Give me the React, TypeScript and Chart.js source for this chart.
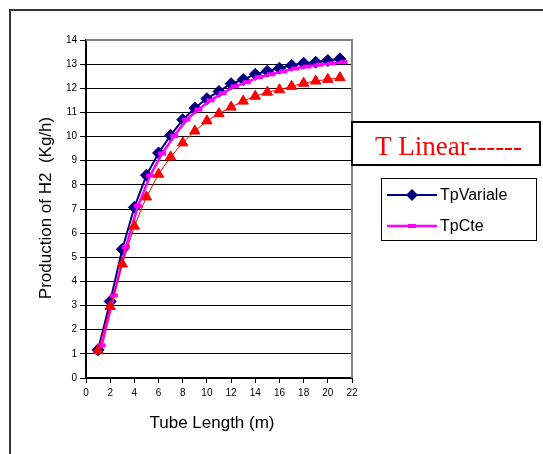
import React, { useEffect, useRef } from "react";
import { Chart, registerables } from "chart.js";

Chart.register(...registerables);

const xValues = [1, 2, 3, 4, 5, 6, 7, 8, 9, 10, 11, 12, 13, 14, 15, 16, 17, 18, 19, 20, 21];
const xValuesCte = [1.3, 2.3, 3.3, 4.3, 5.3, 6.3, 7.3, 8.3, 9.3, 10.3, 11.3, 12.3, 13.3, 14.3, 15.3, 16.3, 17.3, 18.3, 19.3, 20.3, 21.3];
const tpVariale = [1.17, 3.17, 5.33, 7.07, 8.4, 9.32, 10.05, 10.7, 11.18, 11.57, 11.87, 12.19, 12.36, 12.58, 12.71, 12.83, 12.95, 13.04, 13.08, 13.15, 13.22];
const tpCte = [1.35, 3.42, 5.43, 7.13, 8.38, 9.3, 10.02, 10.7, 11.12, 11.5, 11.8, 12.08, 12.25, 12.46, 12.58, 12.7, 12.82, 12.9, 12.98, 13.03, 13.08];
const tLinear = [1.13, 2.96, 4.72, 6.29, 7.5, 8.44, 9.16, 9.74, 10.23, 10.65, 10.95, 11.22, 11.47, 11.67, 11.84, 11.94, 12.08, 12.21, 12.3, 12.37, 12.44];

const legendLabels = ["TpVariale", "TpCte"];
const boxText = "T Linear------";
const xTitle = "Tube Length (m)";
const yTitle = "Production of H2  (Kg/h)";

const NAVY = "#000080";
const MAGENTA = "#FF00FF";
const RED = "#FF0000";

export default function App() {
  const ref = useRef<HTMLCanvasElement | null>(null);

  useEffect(() => {
    const canvas = ref.current;
    if (!canvas) return;

    const decor = {
      id: "decor",
      beforeDraw(chart: any) {
        const ctx = chart.ctx;
        ctx.save();
        ctx.fillStyle = "#ffffff";
        ctx.fillRect(0, 0, chart.width, chart.height);
        ctx.strokeStyle = "#333333";
        ctx.lineWidth = 2;
        ctx.beginPath();
        ctx.moveTo(10, 460);
        ctx.lineTo(10, 10);
        ctx.lineTo(550, 10);
        ctx.stroke();
        ctx.restore();
      },
      afterDraw(chart: any) {
        const ctx = chart.ctx;
        const a = chart.chartArea;
        ctx.save();
        // gray top/right plot border
        ctx.strokeStyle = "#808080";
        ctx.lineWidth = 2;
        ctx.beginPath();
        ctx.moveTo(a.left, a.top);
        ctx.lineTo(a.right, a.top);
        ctx.lineTo(a.right, a.bottom);
        ctx.stroke();

        // axis titles
        ctx.fillStyle = "#000";
        ctx.font = "17px Arial, 'Liberation Sans', sans-serif";
        ctx.textAlign = "center";
        ctx.textBaseline = "middle";
        ctx.fillText(xTitle, 212, 423);
        ctx.save();
        ctx.translate(46, 208);
        ctx.rotate(-Math.PI / 2);
        ctx.fillText(yTitle, 0, 0);
        ctx.restore();

        // T Linear box
        ctx.fillStyle = "#fff";
        ctx.fillRect(352, 122, 188, 43);
        ctx.strokeStyle = "#000";
        ctx.lineWidth = 2;
        ctx.strokeRect(352, 122, 188, 43);
        ctx.fillStyle = RED;
        ctx.font = "27px 'Liberation Serif', 'Times New Roman', serif";
        ctx.textAlign = "left";
        ctx.textBaseline = "alphabetic";
        ctx.fillText(boxText, 375, 155);

        // legend
        ctx.fillStyle = "#fff";
        ctx.fillRect(381, 178, 155, 62);
        ctx.strokeStyle = "#000";
        ctx.lineWidth = 1;
        ctx.strokeRect(381.5, 178.5, 155, 62);
        const rows = [195, 226];
        const ds = chart.data.datasets;
        rows.forEach((ry, i) => {
          const d = ds[i];
          ctx.strokeStyle = d.borderColor;
          ctx.lineWidth = i === 0 ? 2 : 2.5;
          ctx.beginPath();
          ctx.moveTo(387, ry);
          ctx.lineTo(437, ry);
          ctx.stroke();
          if (i === 0) {
            ctx.fillStyle = NAVY;
            ctx.beginPath();
            ctx.moveTo(412, ry - 6);
            ctx.lineTo(418, ry);
            ctx.lineTo(412, ry + 6);
            ctx.lineTo(406, ry);
            ctx.closePath();
            ctx.fill();
          } else {
            ctx.fillStyle = MAGENTA;
            ctx.fillRect(408, ry - 2, 8, 4);
          }
          ctx.fillStyle = "#000";
          ctx.font = "16px Arial, 'Liberation Sans', sans-serif";
          ctx.textAlign = "left";
          ctx.textBaseline = "middle";
          ctx.fillText(legendLabels[i], 440, ry + 1);
        });
        ctx.restore();
      },
    };

    const chart = new Chart(canvas, {
      type: "scatter",
      data: {
        datasets: [
          {
            label: legendLabels[0],
            data: xValues.map((x, i) => ({ x, y: tpVariale[i] })),
            showLine: true,
            borderColor: NAVY,
            backgroundColor: NAVY,
            borderWidth: 2,
            pointStyle: "rectRot",
            pointRadius: 6,
            pointBorderWidth: 1,
            order: 3,
          },
          {
            label: legendLabels[1],
            data: xValuesCte.map((x, i) => ({ x, y: tpCte[i] })),
            showLine: true,
            borderColor: MAGENTA,
            backgroundColor: MAGENTA,
            borderWidth: 2.5,
            pointStyle: "line",
            pointRadius: 4,
            pointBorderWidth: 4,
            order: 2,
          },
          {
            label: "T Linear",
            data: xValues.map((x, i) => ({ x, y: tLinear[i] })),
            showLine: true,
            borderColor: RED,
            backgroundColor: RED,
            borderWidth: 1,
            pointStyle: "triangle",
            pointRadius: 6,
            pointBorderWidth: 1,
            order: 1,
          },
        ],
      },
      options: {
        animation: false,
        responsive: false,
        maintainAspectRatio: false,
        layout: { padding: { left: 0, top: 40, right: 191, bottom: 0 } },
        plugins: {
          legend: { display: false },
          tooltip: { enabled: false },
        },
        scales: {
          x: {
            type: "linear",
            min: 0,
            max: 22,
            afterFit: (s: any) => {
              s.height = 76;
            },
            ticks: {
              stepSize: 2,
              color: "#000",
              font: { size: 10, family: "Arial, 'Liberation Sans', sans-serif" },
              padding: 4,
              maxRotation: 0,
            },
            grid: {
              drawOnChartArea: false,
              drawTicks: true,
              tickLength: 5,
              color: "#000",
            },
            border: { display: true, color: "#000", width: 2 },
          },
          y: {
            type: "linear",
            min: 0,
            max: 14,
            afterFit: (s: any) => {
              s.width = 86;
            },
            ticks: {
              stepSize: 1,
              color: "#000",
              font: { size: 10, family: "Arial, 'Liberation Sans', sans-serif" },
              padding: 3,
            },
            grid: {
              color: "#000",
              lineWidth: 1,
              drawTicks: true,
              tickLength: 6,
            },
            border: { display: true, color: "#000", width: 2 },
          },
        },
      },
      plugins: [decor],
    });

    return () => chart.destroy();
  }, []);

  return (
    <div style={{ position: "absolute", left: 0, top: 0, width: 543, height: 454 }}>
      <canvas ref={ref} width={543} height={454} style={{ display: "block" }} />
    </div>
  );
}
